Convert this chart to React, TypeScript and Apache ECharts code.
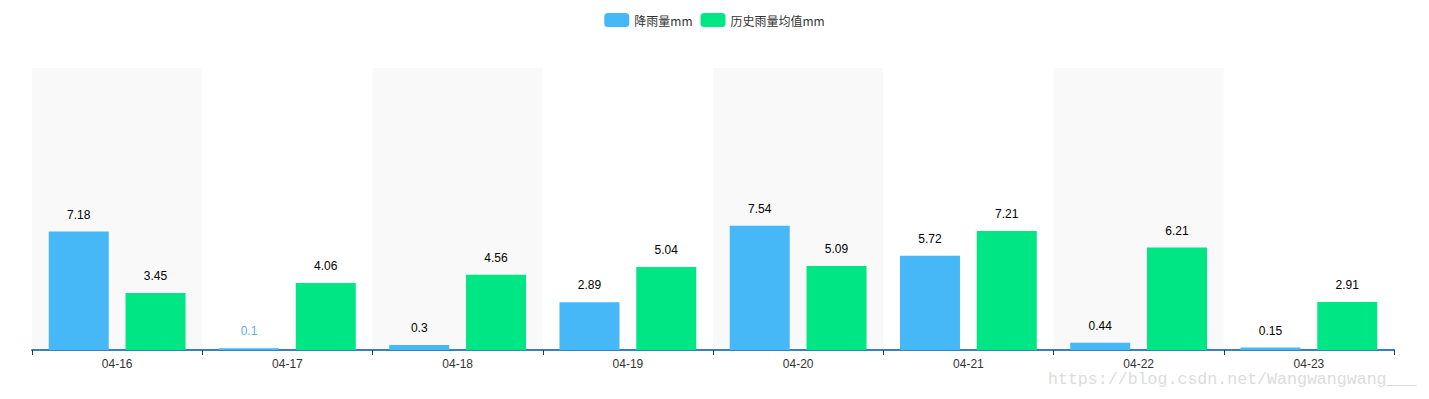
import React, { useEffect, useRef } from "react";
import * as echarts from "echarts";

const categories = ["04-16", "04-17", "04-18", "04-19", "04-20", "04-21", "04-22", "04-23"];
const rainfall = [7.18, 0.1, 0.3, 2.89, 7.54, 5.72, 0.44, 0.15];
const historyAvg = [3.45, 4.06, 4.56, 5.04, 5.09, 7.21, 6.21, 2.91];
const seriesNames = ["降雨量mm", "历史雨量均值mm"];
const watermark = "https://blog.csdn.net/Wangwangwang___";

export default function App() {
  const ref = useRef<HTMLDivElement>(null);
  useEffect(() => {
    if (!ref.current) return;
    const chart = echarts.init(ref.current, undefined, { renderer: "svg" });
    const labelBase = {
      show: true,
      position: "top",
      distance: 11,
      color: "#000",
      fontSize: 12,
      fontFamily: "Liberation Sans, Arial, sans-serif",
    };
    chart.setOption({
      animation: false,
      legend: {
        data: seriesNames,
        top: 8,
        left: "center",
        itemWidth: 25,
        itemHeight: 14,
        itemGap: 8,
        textStyle: { color: "#333", fontSize: 12, fontFamily: "Noto Sans CJK SC, sans-serif" },
      },
      grid: { left: 32, right: 35, top: 68, bottom: 49, containLabel: false },
      xAxis: {
        type: "category",
        data: categories,
        axisLine: { lineStyle: { color: "#3a80bd", width: 2 } },
        axisTick: { show: true, lineStyle: { color: "#333" }, length: 5 },
        axisLabel: { color: "#333", fontSize: 12, fontFamily: "Liberation Sans, Arial, sans-serif", margin: 8 },
        splitArea: { show: true, areaStyle: { color: ["#f9f9f9", "#ffffff"] } },
      },
      yAxis: {
        type: "value",
        show: false,
        min: 0,
        max: 17.1,
        splitLine: { show: false },
      },
      series: [
        {
          name: seriesNames[0],
          type: "bar",
          barWidth: 60,
          barGap: "28%",
          itemStyle: { color: "#47b8f7" },
          label: labelBase,
          data: rainfall.map((v) =>
            v === 0.1 ? { value: v, label: { color: "#62b0e6" } } : v
          ),
        },
        {
          name: seriesNames[1],
          type: "bar",
          barWidth: 60,
          barGap: "28%",
          itemStyle: { color: "#00e684" },
          label: labelBase,
          data: historyAvg,
        },
      ],
      graphic: [
        {
          type: "text",
          left: 1048,
          top: 371,
          style: {
            text: watermark,
            fill: "#dcdcdc",
            fontSize: 16.6,
            fontFamily: "Liberation Mono, DejaVu Sans Mono, monospace",
          },
        },
      ],
    });
    return () => chart.dispose();
  }, []);
  return <div ref={ref} style={{ width: 1429, height: 399, position: "absolute", left: 0, top: 0 }} />;
}
